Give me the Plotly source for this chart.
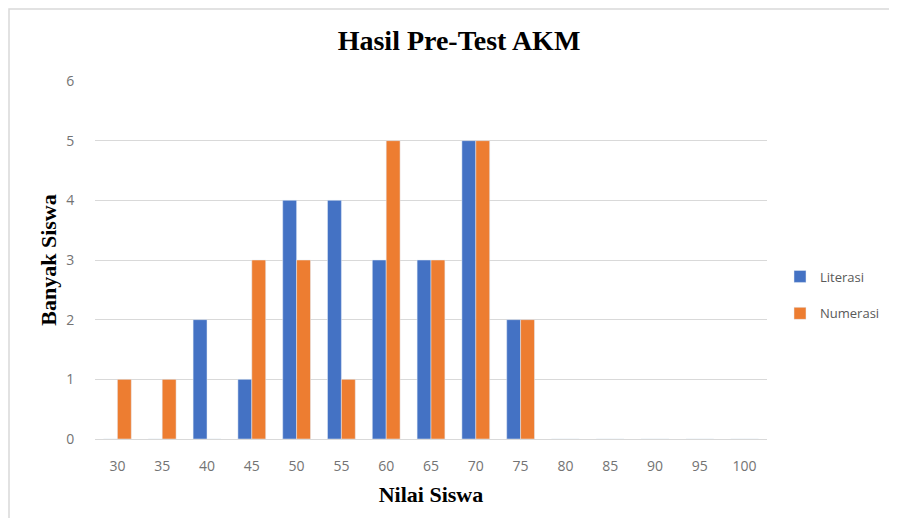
import plotly.graph_objects as go

categories = ["30", "35", "40", "45", "50", "55", "60", "65", "70", "75", "80", "85", "90", "95", "100"]
literasi = [0, 0, 2, 1, 4, 4, 3, 3, 5, 2, 0, 0, 0, 0, 0]
numerasi = [1, 1, 0, 3, 3, 1, 5, 3, 5, 2, 0, 0, 0, 0, 0]
y_ticks = [0, 1, 2, 3, 4, 5, 6]

# page has an 8px body margin; keep the figure inside the window so no scrollbars appear
OFF = 8
W, H = 897 - 2 * OFF, 526 - 2 * OFF
L = 95 - OFF
T = 81 - OFF
R = W - (767 - OFF)
B = H - (439 - OFF)
pw, ph = W - L - R, H - T - B

def px_x(p):
    return (p - OFF - L) / pw

def px_y(p):
    return (H - B - (p - OFF)) / ph

fig = go.Figure()
fig.add_trace(go.Bar(name="Literasi", x=categories, y=literasi, marker_color="#4472C4", legendgroup="lit"))
fig.add_trace(go.Bar(name="Numerasi", x=categories, y=numerasi, marker_color="#ED7D31", legendgroup="num"))

fig.update_layout(
    width=W, height=H,
    margin=dict(l=L, r=R, t=T, b=B, autoexpand=False),
    paper_bgcolor="white", plot_bgcolor="white",
    barmode="group", bargap=0.38, bargroupgap=0,
    title=dict(text="<b>Hasil Pre-Test AKM</b>", x=(459 - OFF) / W, xanchor="center",
               y=1 - (40 - OFF) / H, yanchor="middle", yref="container",
               font=dict(family="Liberation Serif", size=28, color="#000000")),
    legend=dict(xref="container", yref="container",
                x=(780 - OFF) / W, y=1 - (295 - OFF) / H, xanchor="left", yanchor="middle",
                font=dict(family="Open Sans", size=13, color="#595959"),
                traceorder="grouped", tracegroupgap=17, itemwidth=30, bgcolor="rgba(0,0,0,0)"),
    font=dict(family="Open Sans", color="#595959"),
    shapes=[dict(type="rect", xref="paper", yref="paper",
                 x0=px_x(9), x1=px_x(905), y0=px_y(535), y1=px_y(9),
                 line=dict(color="#d9d9d9", width=1.5), fillcolor="rgba(0,0,0,0)", layer="below")],
)
fig.update_xaxes(
    type="category", categoryorder="array", categoryarray=categories,
    showgrid=False, showline=True, linecolor="#d9d9d9", linewidth=1,
    ticks="outside", ticklen=14, tickcolor="rgba(0,0,0,0)",
    tickfont=dict(family="Open Sans", size=14, color="#737373"),
    title=dict(text="<b>Nilai Siswa</b>", standoff=12,
               font=dict(family="Liberation Serif", size=22, color="#000000")),
)
fig.update_yaxes(
    range=[0, 6], tickvals=y_ticks, showgrid=True, gridcolor="#d9d9d9", gridwidth=1,
    zeroline=False, showline=False,
    ticks="outside", ticklen=17, tickcolor="rgba(0,0,0,0)",
    tickfont=dict(family="Open Sans", size=14, color="#737373"),
    title=dict(text="<b>Banyak Siswa</b>", standoff=3,
               font=dict(family="Liberation Serif", size=22, color="#000000")),
)

fig.write_html("out.html")
